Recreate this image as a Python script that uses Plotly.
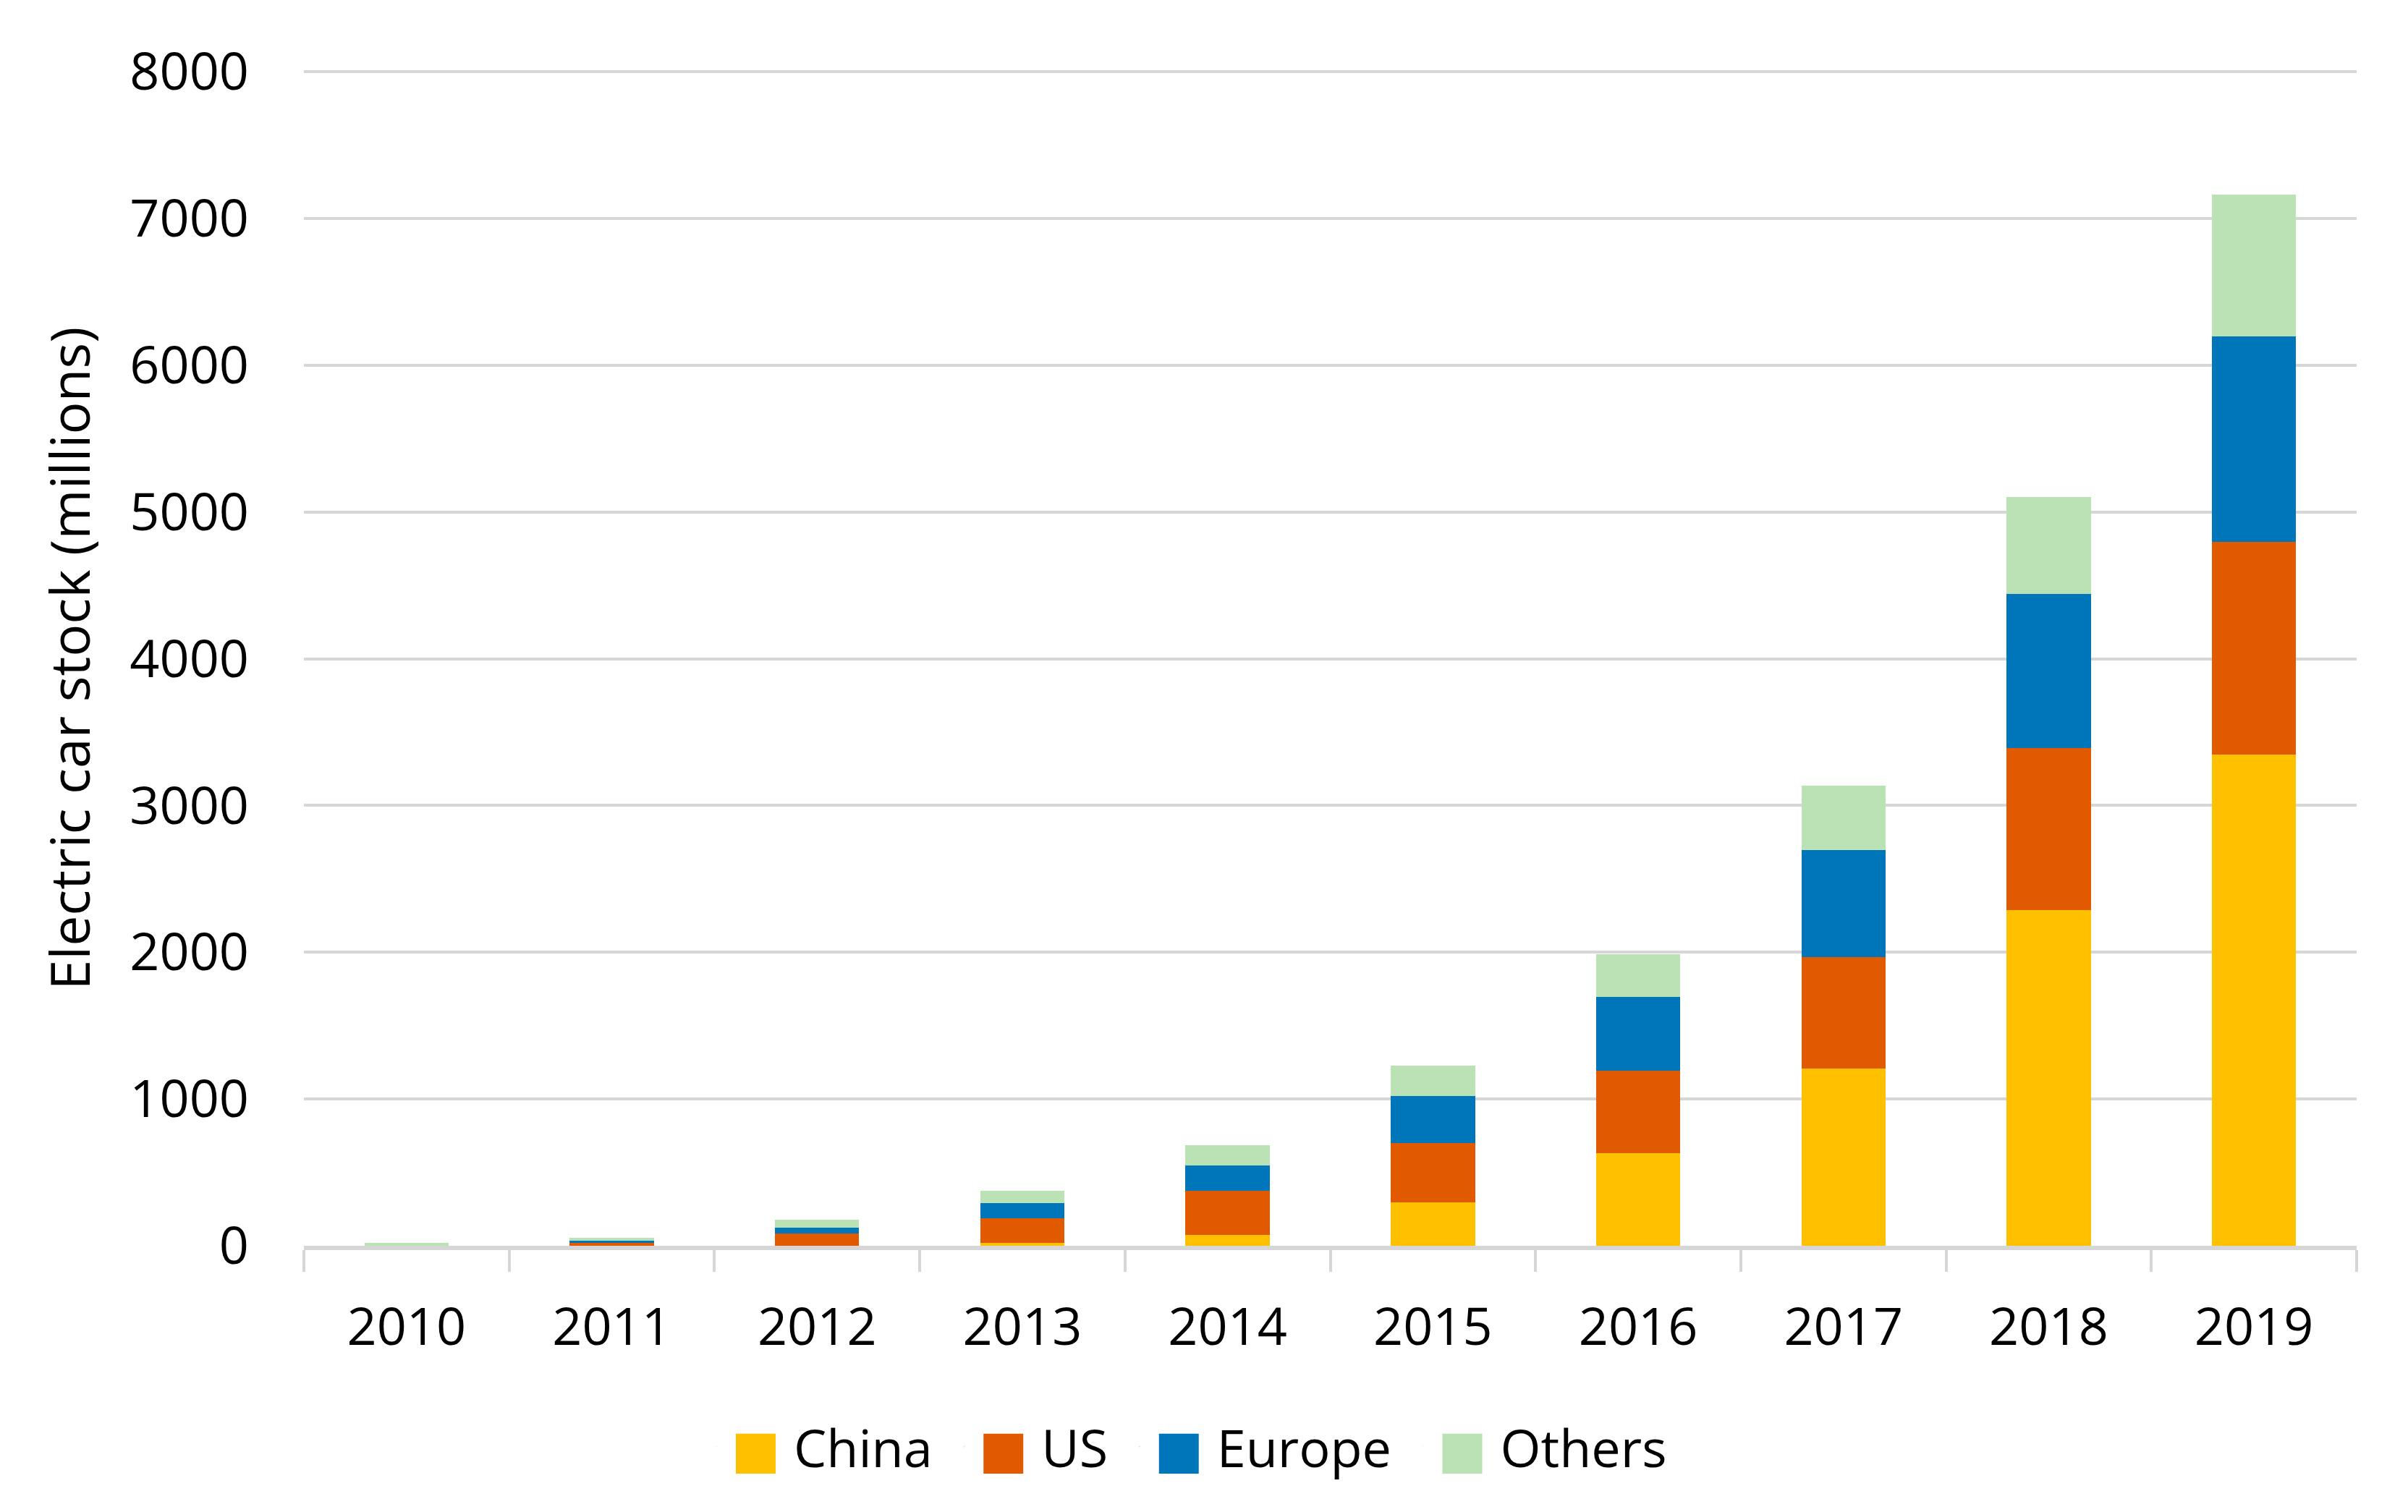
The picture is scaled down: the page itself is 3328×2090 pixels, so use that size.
import plotly.graph_objects as go

years = ["2010", "2011", "2012", "2013", "2014", "2015", "2016", "2017", "2018", "2019"]
china = [0, 0, 0, 18, 73, 298, 632, 1207, 2285, 3345]
us = [0, 18, 85, 171, 302, 403, 560, 760, 1108, 1453]
europe = [0, 18, 36, 100, 171, 320, 506, 728, 1050, 1400]
others = [20, 18, 55, 87, 137, 204, 289, 438, 657, 963]
series_names = ["China", "US", "Europe", "Others"]
colors = ["#FFC000", "#E15A00", "#0076BA", "#BBE2B4"]
y_ticks = [0, 1000, 2000, 3000, 4000, 5000, 6000, 7000, 8000]
y_title = "Electric car stock (millions)"

FONT = "Open Sans, DejaVu Sans, sans-serif"

fig = go.Figure()
for name, vals, col in zip(series_names, [china, us, europe, others], colors):
    fig.add_trace(go.Bar(x=years, y=vals, name=name, marker=dict(color=col, line=dict(width=0)),
                         showlegend=False))

# legend entries with large square swatches
for name, col in zip(series_names, colors):
    fig.add_trace(go.Scatter(x=[None], y=[None], mode="markers",
                             marker=dict(color=col, opacity=0, size=1),
                             name=f"<span style='color:{col}'>■</span>\u00a0{name}\u00a0",
                             showlegend=True))

fig.update_layout(
    width=3328, height=2090,
    margin=dict(l=412, r=79, t=90, b=376),
    paper_bgcolor="white", plot_bgcolor="white",
    barmode="stack", bargap=0.59,
    font=dict(family=FONT, color="#000000", size=72),
    legend=dict(orientation="h", xref="container", yref="container",
                x=0.493, xanchor="center", y=0.047, yanchor="middle",
                font=dict(family=FONT, size=72, color="#000000"),
                itemwidth=30, traceorder="normal"),
    xaxis=dict(type="category", showline=True, linecolor="#D6D6D6", linewidth=6,
               ticks="outside", tickson="boundaries", ticklen=30, tickwidth=4,
               tickcolor="#D6D6D6", showgrid=False, zeroline=False,
               tickfont=dict(family=FONT, size=72, color="#000000"),
               ticklabelstandoff=45),
    yaxis=dict(range=[0, 8005], tickvals=y_ticks, showgrid=True, gridcolor="#D6D6D6",
               gridwidth=4, zeroline=False, showline=False, ticks="",
               tickfont=dict(family=FONT, size=72, color="#000000"),
               ticklabelstandoff=75,
               title=dict(text=y_title, font=dict(family=FONT, size=75, color="#000000"),
                          standoff=30)),
)

fig.write_html("out.html")
